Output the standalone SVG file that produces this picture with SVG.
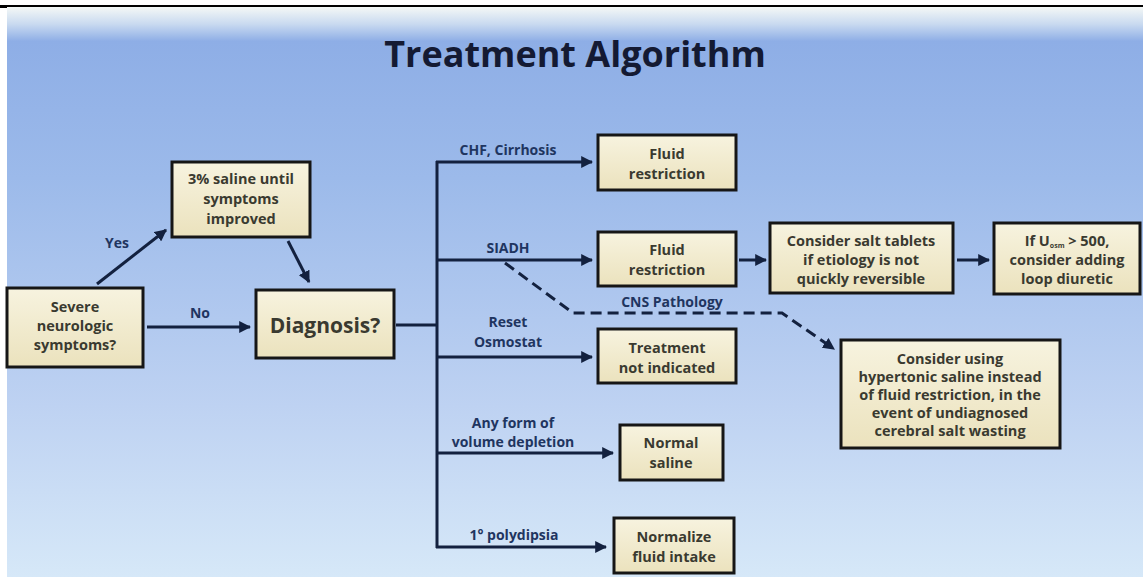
<svg xmlns="http://www.w3.org/2000/svg" width="1143" height="577" viewBox="0 0 1143 577">
<defs>
<linearGradient id="bg" x1="0" y1="0" x2="0" y2="1">
<stop offset="0" stop-color="#f4f8f6"/>
<stop offset="0.03" stop-color="#c9daf0"/>
<stop offset="0.06" stop-color="#8eaee6"/>
<stop offset="0.3" stop-color="#9cbaea"/>
<stop offset="0.7" stop-color="#bed2f2"/>
<stop offset="1" stop-color="#d6e8f8"/>
</linearGradient>
<linearGradient id="box" x1="0" y1="0" x2="0" y2="1">
<stop offset="0" stop-color="#f7f3df"/>
<stop offset="1" stop-color="#ebe2bd"/>
</linearGradient>
<marker id="ah" viewBox="0 0 10 10" refX="9" refY="5" markerWidth="4" markerHeight="4" orient="auto" markerUnits="strokeWidth">
<path d="M0,0 L10,5 L0,10 z" fill="#13213f"/>
</marker>
<style>
.node rect{fill:url(#box);stroke:#161616;stroke-width:3}
.nt{font-family:"Open Sans","Liberation Sans",sans-serif;font-weight:bold;font-size:14.5px;fill:#3a3a30;text-anchor:middle}
.lbl{font-family:"Open Sans","Liberation Sans",sans-serif;font-weight:bold;font-size:14px;fill:#1f3560;text-anchor:middle}
.ln{stroke:#13213f;stroke-width:3;fill:none}
.arr{marker-end:url(#ah)}
.dash{stroke-dasharray:11 6}
</style>
</defs>
<rect x="0" y="0" width="1143" height="577" fill="#ffffff"/>
<rect x="7" y="7" width="1136" height="570" fill="url(#bg)"/>
<line x1="0" y1="6" x2="1143" y2="6" stroke="#000" stroke-width="2"/>
<rect x="0" y="5" width="7" height="3" fill="#000"/>
<text x="575" y="67" font-family="'Open Sans','Liberation Sans',sans-serif" font-weight="bold" font-size="36" fill="#141a33" text-anchor="middle">Treatment Algorithm</text>

<g id="connectors">
<line class="ln arr" x1="97" y1="284" x2="166" y2="230"/>
<line class="ln arr" x1="288" y1="241" x2="309" y2="282"/>
<line class="ln arr" x1="147" y1="327" x2="250" y2="327"/>
<line class="ln" x1="396" y1="325" x2="437" y2="325"/>
<line class="ln" x1="437" y1="161" x2="437" y2="548"/>
<line class="ln arr" x1="436" y1="162" x2="592" y2="162"/>
<line class="ln arr" x1="436" y1="260" x2="592" y2="260"/>
<line class="ln arr" x1="436" y1="357" x2="592" y2="357"/>
<line class="ln arr" x1="436" y1="453" x2="613" y2="453"/>
<line class="ln arr" x1="436" y1="547" x2="606" y2="547"/>
<line class="ln arr" x1="739" y1="260" x2="766" y2="260"/>
<line class="ln arr" x1="957" y1="260" x2="989" y2="260"/>
<path class="ln dash arr" d="M505,263 L573,313 L782,313 L834,349"/>
<text class="lbl" x="117" y="248">Yes</text>
<text class="lbl" x="200" y="318">No</text>
<text class="lbl" x="508" y="155">CHF, Cirrhosis</text>
<text class="lbl" x="508" y="253">SIADH</text>
<text class="lbl" x="672" y="307">CNS Pathology</text>
<text class="lbl" x="508" y="327">Reset</text>
<text class="lbl" x="508" y="347">Osmostat</text>
<text class="lbl" x="513" y="428">Any form of</text>
<text class="lbl" x="513" y="447">volume depletion</text>
<text class="lbl" x="514" y="540">1° polydipsia</text>
</g>

<g id="severe" class="node">
<rect x="7" y="288" width="136" height="79"/>
<text class="nt" x="75" y="312">Severe</text>
<text class="nt" x="75" y="331">neurologic</text>
<text class="nt" x="75" y="350">symptoms?</text>
</g>
<g id="saline3" class="node">
<rect x="172" y="162" width="138" height="75"/>
<text class="nt" x="241" y="184">3% saline until</text>
<text class="nt" x="241" y="204">symptoms</text>
<text class="nt" x="241" y="224">improved</text>
</g>
<g id="diagnosis" class="node">
<rect x="256" y="290" width="138" height="68"/>
<text class="nt" x="325" y="333" style="font-size:21px">Diagnosis?</text>
</g>
<g id="fluid1" class="node">
<rect x="598" y="135" width="138" height="55"/>
<text class="nt" x="667" y="159">Fluid</text>
<text class="nt" x="667" y="179">restriction</text>
</g>
<g id="fluid2" class="node">
<rect x="598" y="232" width="138" height="54"/>
<text class="nt" x="667" y="255">Fluid</text>
<text class="nt" x="667" y="275">restriction</text>
</g>
<g id="salttablets" class="node">
<rect x="770" y="223" width="183" height="70"/>
<text class="nt" x="861" y="246">Consider salt tablets</text>
<text class="nt" x="861" y="265">if etiology is not</text>
<text class="nt" x="861" y="284">quickly reversible</text>
</g>
<g id="loop" class="node">
<rect x="994" y="223" width="146" height="71"/>
<text class="nt" x="1067" y="246">If U<tspan font-size="7" dy="2">osm</tspan><tspan dy="-2"> &gt; 500,</tspan></text>
<text class="nt" x="1067" y="265">consider adding</text>
<text class="nt" x="1067" y="284">loop diuretic</text>
</g>
<g id="treatmentnot" class="node">
<rect x="598" y="329" width="138" height="54"/>
<text class="nt" x="667" y="353">Treatment</text>
<text class="nt" x="667" y="373">not indicated</text>
</g>
<g id="hypertonic" class="node">
<rect x="841" y="340" width="219" height="108"/>
<text class="nt" x="950" y="364">Consider using</text>
<text class="nt" x="950" y="382">hypertonic saline instead</text>
<text class="nt" x="950" y="400">of fluid restriction, in the</text>
<text class="nt" x="950" y="418">event of undiagnosed</text>
<text class="nt" x="950" y="436">cerebral salt wasting</text>
</g>
<g id="normalsaline" class="node">
<rect x="620" y="425" width="103" height="55"/>
<text class="nt" x="671" y="448">Normal</text>
<text class="nt" x="671" y="468">saline</text>
</g>
<g id="normalize" class="node">
<rect x="614" y="518" width="120" height="55"/>
<text class="nt" x="674" y="542">Normalize</text>
<text class="nt" x="674" y="562">fluid intake</text>
</g>
</svg>
